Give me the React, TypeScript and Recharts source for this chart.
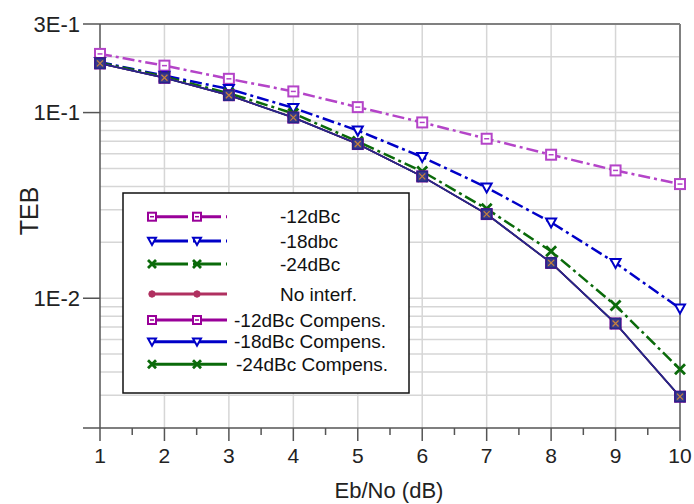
import React from "react";
import {
  LineChart,
  Line,
  XAxis,
  YAxis,
  CartesianGrid,
  ReferenceLine,
  Legend,
  Label,
} from "recharts";

// Eb/No (dB)
const ebNo = [1, 2, 3, 4, 5, 6, 7, 8, 9, 10];

// TEB
const teb12dBc = [0.207, 0.179, 0.152, 0.13, 0.107, 0.0885, 0.0723, 0.0593, 0.0488, 0.0412];
const teb18dBc = [0.187, 0.158, 0.134, 0.106, 0.08, 0.0576, 0.0395, 0.0256, 0.0155, 0.00881];
const teb24dBc = [0.186, 0.156, 0.127, 0.099, 0.0698, 0.0482, 0.0303, 0.0179, 0.00914, 0.00414];
const tebNoInterf = [0.184, 0.154, 0.124, 0.094, 0.0677, 0.0453, 0.0284, 0.0155, 0.00731, 0.00295];
const teb12Comp = [0.184, 0.154, 0.124, 0.094, 0.0677, 0.0453, 0.0284, 0.0155, 0.00731, 0.00295];
const teb18Comp = [0.184, 0.154, 0.124, 0.094, 0.0677, 0.0453, 0.0284, 0.0155, 0.00731, 0.00295];
const teb24Comp = [0.184, 0.154, 0.124, 0.094, 0.0677, 0.0453, 0.0284, 0.0155, 0.00731, 0.00295];

const xTicks = [1, 1.5, 2, 2.5, 3, 3.5, 4, 4.5, 5, 5.5, 6, 6.5, 7, 7.5, 8, 8.5, 9, 9.5, 10];
const xGrid = [2, 3, 4, 5, 6, 7, 8, 9];
const yTicks = [0.01, 0.1, 0.3];
const yTickLabels = ["1E-2", "1E-1", "3E-1"];
const yGrid = [
  0.003, 0.004, 0.005, 0.006, 0.007, 0.008, 0.009,
  0.01, 0.02, 0.03, 0.04, 0.05, 0.06, 0.07, 0.08, 0.09,
  0.1, 0.2,
];

const FONT = "'Liberation Sans', Arial, sans-serif";
const DASH = "12 4 3 4";

type Shape = "square" | "triangle" | "cross" | "circle" | "filledSquare";

// 系列定義（凡例の色と描画の色は別）
const SERIES: {
  key: string;
  name: string;
  values: number[];
  color: string;
  legendColor: string;
  shape: Shape;
  legendShape: Shape;
  dashed: boolean;
  width: number;
}[] = [
  { key: "s12", name: "-12dBc", values: teb12dBc, color: "#b444c8", legendColor: "#990099", shape: "square", legendShape: "square", dashed: true, width: 2.5 },
  { key: "s18", name: "-18dbc", values: teb18dBc, color: "#0000c8", legendColor: "#0000c8", shape: "triangle", legendShape: "triangle", dashed: true, width: 2.5 },
  { key: "s24", name: "-24dBc", values: teb24dBc, color: "#0a6a0a", legendColor: "#0a6a0a", shape: "cross", legendShape: "cross", dashed: true, width: 2.5 },
  { key: "sNo", name: "No interf.", values: tebNoInterf, color: "#c8823c", legendColor: "#b03060", shape: "circle", legendShape: "circle", dashed: false, width: 1.5 },
  { key: "c24", name: "-24dBc Compens.", values: teb24Comp, color: "#0a6a0a", legendColor: "#0a6a0a", shape: "cross", legendShape: "cross", dashed: false, width: 1.5 },
  { key: "c12", name: "-12dBc Compens.", values: teb12Comp, color: "#990099", legendColor: "#990099", shape: "square", legendShape: "square", dashed: false, width: 1.5 },
  { key: "c18", name: "-18dBc Compens.", values: teb18Comp, color: "#26268a", legendColor: "#0000c8", shape: "filledSquare", legendShape: "triangle", dashed: false, width: 1.8 },
];

const LEGEND_ORDER = ["s12", "s18", "s24", "sNo", "c12", "c18", "c24"];

const chartData = ebNo.map((x, i) => {
  const row: Record<string, number> = { x };
  SERIES.forEach((s) => {
    row[s.key] = s.values[i];
  });
  return row;
});

function Marker({ shape, cx, cy, color, r = 5 }: { shape: Shape; cx: number; cy: number; color: string; r?: number }) {
  if (shape === "square") {
    return (
      <g>
        <rect x={cx - r} y={cy - r} width={2 * r} height={2 * r} fill="#fff" stroke={color} strokeWidth={2} />
        <line x1={cx - r / 2} x2={cx + r / 2} y1={cy} y2={cy} stroke={color} strokeWidth={1.5} />
      </g>
    );
  }
  if (shape === "filledSquare") {
    return (
      <g>
        <rect x={cx - r} y={cy - r} width={2 * r} height={2 * r} fill="#3a3a8a" stroke={color} strokeWidth={1.5} />
        <path d={`M${cx - 3},${cy - 3}L${cx + 3},${cy + 3}M${cx + 3},${cy - 3}L${cx - 3},${cy + 3}`} stroke="#c8823c" strokeWidth={1.2} />
      </g>
    );
  }
  if (shape === "triangle") {
    return (
      <polygon
        points={`${cx - r},${cy - r * 0.8} ${cx + r},${cy - r * 0.8} ${cx},${cy + r}`}
        fill="#fff"
        stroke={color}
        strokeWidth={2}
      />
    );
  }
  if (shape === "cross") {
    return (
      <path
        d={`M${cx - r},${cy - r}L${cx + r},${cy + r}M${cx + r},${cy - r}L${cx - r},${cy + r}`}
        stroke={color}
        strokeWidth={2.8}
      />
    );
  }
  return <circle cx={cx} cy={cy} r={r * 0.8} fill={color} stroke={color} strokeWidth={1} />;
}

function XTick(props: any) {
  const { x, y, payload } = props;
  const v = payload.value as number;
  const major = Number.isInteger(v);
  return (
    <g>
      {v === 1 && <line x1={x - 17} x2={x} y1={y} y2={y} stroke="#555" strokeWidth={1.5} />}
      <line x1={x} x2={x} y1={y} y2={y + (major ? 13 : 7)} stroke="#555" strokeWidth={1.5} />
      {major && (
        <text x={x} y={y + 35} textAnchor="middle" fontSize={21} fill="#222" fontFamily={FONT}>
          {v}
        </text>
      )}
    </g>
  );
}

function LegendBox() {
  const rowY = [24.7, 49, 72, 102, 128, 149.7, 172.3];
  const textX = [158, 158, 158, 158, 112, 112, 114];
  return (
    <svg width={288} height={202} style={{ display: "block" }}>
      <rect x={1} y={1} width={286} height={200} fill="#fff" stroke="#111" strokeWidth={1.5} />
      {LEGEND_ORDER.map((k, i) => {
        const s = SERIES.find((d) => d.key === k)!;
        const y = rowY[i];
        return (
          <g key={k}>
            <line
              x1={30}
              x2={105}
              y1={y}
              y2={y}
              stroke={s.legendColor}
              strokeWidth={3}
              strokeDasharray={s.dashed ? "36 5 28 5 3" : undefined}
            />
            <Marker shape={s.legendShape} cx={30} cy={y} color={s.legendColor} r={4} />
            <Marker shape={s.legendShape} cx={75} cy={y} color={s.legendColor} r={4} />
            <text x={textX[i]} y={y + 6.5} fontSize={19} fill="#111" fontFamily={FONT}>
              {s.name}
            </text>
          </g>
        );
      })}
    </svg>
  );
}

export default function App() {
  return (
    <div style={{ position: "absolute", left: 0, top: 0, fontFamily: FONT }}>
      <LineChart
        width={694}
        height={504}
        data={chartData}
        margin={{ top: 24, right: 14, bottom: 0, left: 0 }}
      >
        <CartesianGrid
          horizontalValues={yGrid}
          verticalValues={xGrid}
          stroke="#d6d6d6"
          strokeWidth={1.5}
        />
        <XAxis
          dataKey="x"
          type="number"
          domain={[1, 10]}
          ticks={xTicks}
          interval={0}
          height={76}
          tickSize={0}
          tickMargin={0}
          tickLine={false}
          axisLine={{ stroke: "#555", strokeWidth: 1.5 }}
          tick={<XTick />}
        >
          <Label
            content={() => (
              <text x={389} y={498} textAnchor="middle" fontSize={22} fill="#222" fontFamily={FONT}>
                Eb/No (dB)
              </text>
            )}
          />
        </XAxis>
        <YAxis
          type="number"
          scale="log"
          domain={[0.002, 0.3]}
          allowDataOverflow
          ticks={yTicks}
          interval={0}
          width={100}
          tickSize={17}
          tickMargin={3}
          tickLine={{ stroke: "#555", strokeWidth: 1.5 }}
          axisLine={{ stroke: "#555", strokeWidth: 1.5 }}
          tick={{ fontSize: 22, fill: "#222", fontFamily: FONT }}
          tickFormatter={(v: number) => yTickLabels[yTicks.indexOf(v)] ?? ""}
        >
          <Label
            content={() => (
              <text
                x={38}
                y={211}
                transform="rotate(-90 38 211)"
                textAnchor="middle"
                fontSize={25}
                fill="#222"
                fontFamily={FONT}
              >
                TEB
              </text>
            )}
          />
        </YAxis>
        <ReferenceLine y={0.3} stroke="#808080" strokeWidth={2} />
        <ReferenceLine x={10} stroke="#808080" strokeWidth={2} />
        {SERIES.map((s) => (
          <Line
            key={s.key}
            dataKey={s.key}
            name={s.name}
            type="linear"
            stroke={s.color}
            strokeWidth={s.width}
            strokeDasharray={s.dashed ? DASH : undefined}
            isAnimationActive={false}
            dot={(p: any) => (
              <Marker key={`${s.key}-${p.index}`} shape={s.shape} cx={p.cx} cy={p.cy} color={s.color} />
            )}
            activeDot={false}
          />
        ))}
        <Legend
          layout="horizontal"
          verticalAlign="middle"
          align="center"
          wrapperStyle={{ left: 122, top: 192, width: 288, height: 202 }}
          content={() => <LegendBox />}
        />
      </LineChart>
    </div>
  );
}
